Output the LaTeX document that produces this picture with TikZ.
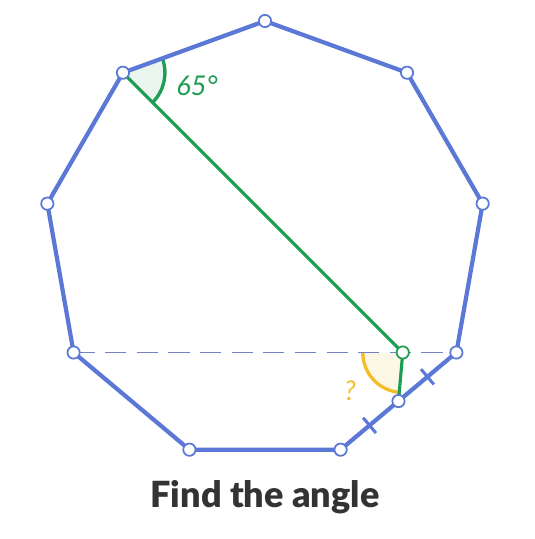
\documentclass[tikz,border=0pt]{standalone}
\usepackage{fontspec}
\setmainfont{Lato}
\newfontfamily\titlefont{Lato}[UprightFont=* Black]
\usetikzlibrary{calc}
\definecolor{nonablue}{HTML}{5B78D6}
\definecolor{guideblue}{HTML}{7482C2}
\definecolor{anggreen}{HTML}{1E9E52}
\definecolor{angyellow}{HTML}{F2BE2C}
\definecolor{titlegray}{HTML}{333333}
\begin{document}
\begin{tikzpicture}
			[x=0.02cm,y=0.02cm,
			side/.style={nonablue,line width=2.4pt,line join=round},
			guide/.style={guideblue,line width=1pt,dash pattern=on 12pt off 6pt},
			chord/.style={anggreen,line width=1.8pt},
			vertex/.style={circle,draw=nonablue,fill=white,line width=1pt,
				inner sep=0pt,minimum size=7pt},
			tick/.style={nonablue,line width=1.7pt},
			anglabel/.style={font=\itshape\fontsize{15.5}{15.5}\selectfont}]
			\useasboundingbox (-265,242) rectangle (270,-297);
			% corners of the nonagon, v0 on top
			\foreach \i in {0,...,8}
				\coordinate (v\i) at (90+40*\i:221);
			\coordinate (q) at ($(v1)+(-45:420)$);
			\coordinate (p) at (intersection of v1--q and v3--v6);
			\coordinate (m) at ($(v5)!0.5!(v6)$);
			% angles
			\fill[anggreen!10] (v1) -- ++(20:0.84cm) arc[start angle=20,end angle=-45,radius=0.84cm] -- cycle;
			\draw[anggreen,line width=1.9pt] ($(v1)+(20:0.84cm)$) arc[start angle=20,end angle=-45,radius=0.84cm];
			\fill[angyellow!12] (p) -- ++(180:0.8cm) arc[start angle=180,end angle=265,radius=0.8cm] -- cycle;
			\draw[angyellow,line width=1.9pt] ($(p)+(180:0.8cm)$) arc[start angle=180,end angle=265,radius=0.8cm];
			% lines
			\draw[guide] (v3) -- (v6);
			\draw[chord] (v1) -- (p) -- (m);
			\draw[side] (v0) \foreach \i in {1,...,8}{ -- (v\i)} -- cycle;
			\draw[tick] ($(v6)!0.25!(v5)$) ++(130:10) -- ++(310:20);
			\draw[tick] ($(v6)!0.75!(v5)$) ++(130:10) -- ++(310:20);
			% points
			\foreach \i in {0,...,8}
				\node[vertex] (c\i) at (v\i) {};
			\node[vertex] (cm) at (m) {};
			\node[vertex,draw=anggreen] (cp) at (p) {};
			\node[anglabel,text=anggreen] (ang) at (-68,156) {65°};
			\node[anglabel,text=angyellow] (unknown) at (85,-149) {?};
			\node[font=\titlefont\fontsize{20.5}{20.5}\selectfont,text=titlegray] (title) at (0,-255) {Find the angle};
		\end{tikzpicture}
\end{document}
